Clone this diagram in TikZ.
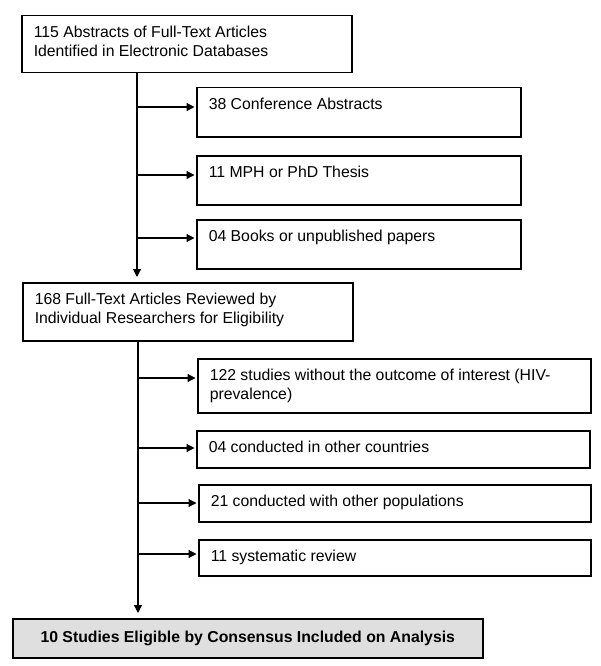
\documentclass[tikz,border=0pt]{standalone}
\usepackage{fontspec}
\setmainfont{Liberation Sans}
\usetikzlibrary{arrows.meta}
\newcommand{\boxtext}[3]{\begin{minipage}[t][#2][t]{#1}\raggedright #3\end{minipage}}
\tikzset{
  flowbox/.style={draw=black, line width=1.5pt, anchor=north west, inner xsep=12pt, inner ysep=10pt,
    font=\fontsize{15.8}{19}\selectfont},
  finalbox/.style={draw=black, line width=1.5pt, anchor=north west, fill=gray!25, inner sep=0pt,
    minimum width=470pt, minimum height=39pt, align=center, font=\fontsize{15.8}{19}\selectfont\bfseries},
  arr/.style={line width=1.2pt, -{Triangle[length=8pt,width=8pt]}, shorten >=1.5pt},
  varr/.style={line width=1.2pt, -{Triangle[length=8pt,width=8pt]}, shorten >=5pt}
}
\begin{document}
\begin{tikzpicture}[x=1pt,y=-1pt]
\useasboundingbox (0,0) rectangle (600,666);
% main boxes
\node[flowbox] (b1) at (21,15) {\boxtext{306pt}{37pt}{115 Abstracts of Full-Text Articles\\Identified in Electronic Databases}};
\node[flowbox] (s1) at (196,87) {\boxtext{300pt}{29pt}{38 Conference Abstracts}};
\node[flowbox] (s2) at (196,155) {\boxtext{300pt}{29pt}{11 MPH or PhD Thesis}};
\node[flowbox] (s3) at (196,219) {\boxtext{300pt}{29pt}{04 Books or unpublished papers}};
\node[flowbox] (b2) at (22,282) {\boxtext{306pt}{38pt}{168 Full-Text Articles Reviewed by\\Individual Researchers for Eligibility}};
\node[flowbox] (e1) at (197,358) {\boxtext{369pt}{34pt}{122 studies without the outcome of interest (HIV-\\prevalence)}};
\node[flowbox] (e2) at (196,430) {\boxtext{369pt}{17pt}{04 conducted in other countries}};
\node[flowbox] (e3) at (198,484) {\boxtext{368pt}{17pt}{21 conducted with other populations}};
\node[flowbox] (e4) at (198,539) {\boxtext{368pt}{16pt}{11 systematic review}};
\node[finalbox] (f) at (12,618) {10 Studies Eligible by Consensus Included on Analysis};
% trunks
\coordinate (tk1) at ([xshift=116pt]b1.south west);
\coordinate (tk2) at ([xshift=116pt]b2.south west);
\draw[varr] (tk1) -- (tk1 |- b2.north);
\draw[varr] (tk2) -- (tk2 |- f.north);
% branch targets
\coordinate (a1) at ([yshift=-20pt]s1.north west);
\coordinate (a2) at ([yshift=-20pt]s2.north west);
\coordinate (a3) at ([yshift=-19pt]s3.north west);
\coordinate (c1) at ([yshift=-20pt]e1.north west);
\coordinate (c2) at ([yshift=-18pt]e2.north west);
\coordinate (c3) at ([yshift=-19pt]e3.north west);
\coordinate (c4) at ([yshift=-15pt]e4.north west);
\draw[arr] (tk1 |- a1) -- (a1);
\draw[arr] (tk1 |- a2) -- (a2);
\draw[arr] (tk1 |- a3) -- (a3);
\draw[arr] (tk2 |- c1) -- (c1);
\draw[arr] (tk2 |- c2) -- (c2);
\draw[arr] (tk2 |- c3) -- (c3);
\draw[arr] (tk2 |- c4) -- (c4);
\end{tikzpicture}
\end{document}
